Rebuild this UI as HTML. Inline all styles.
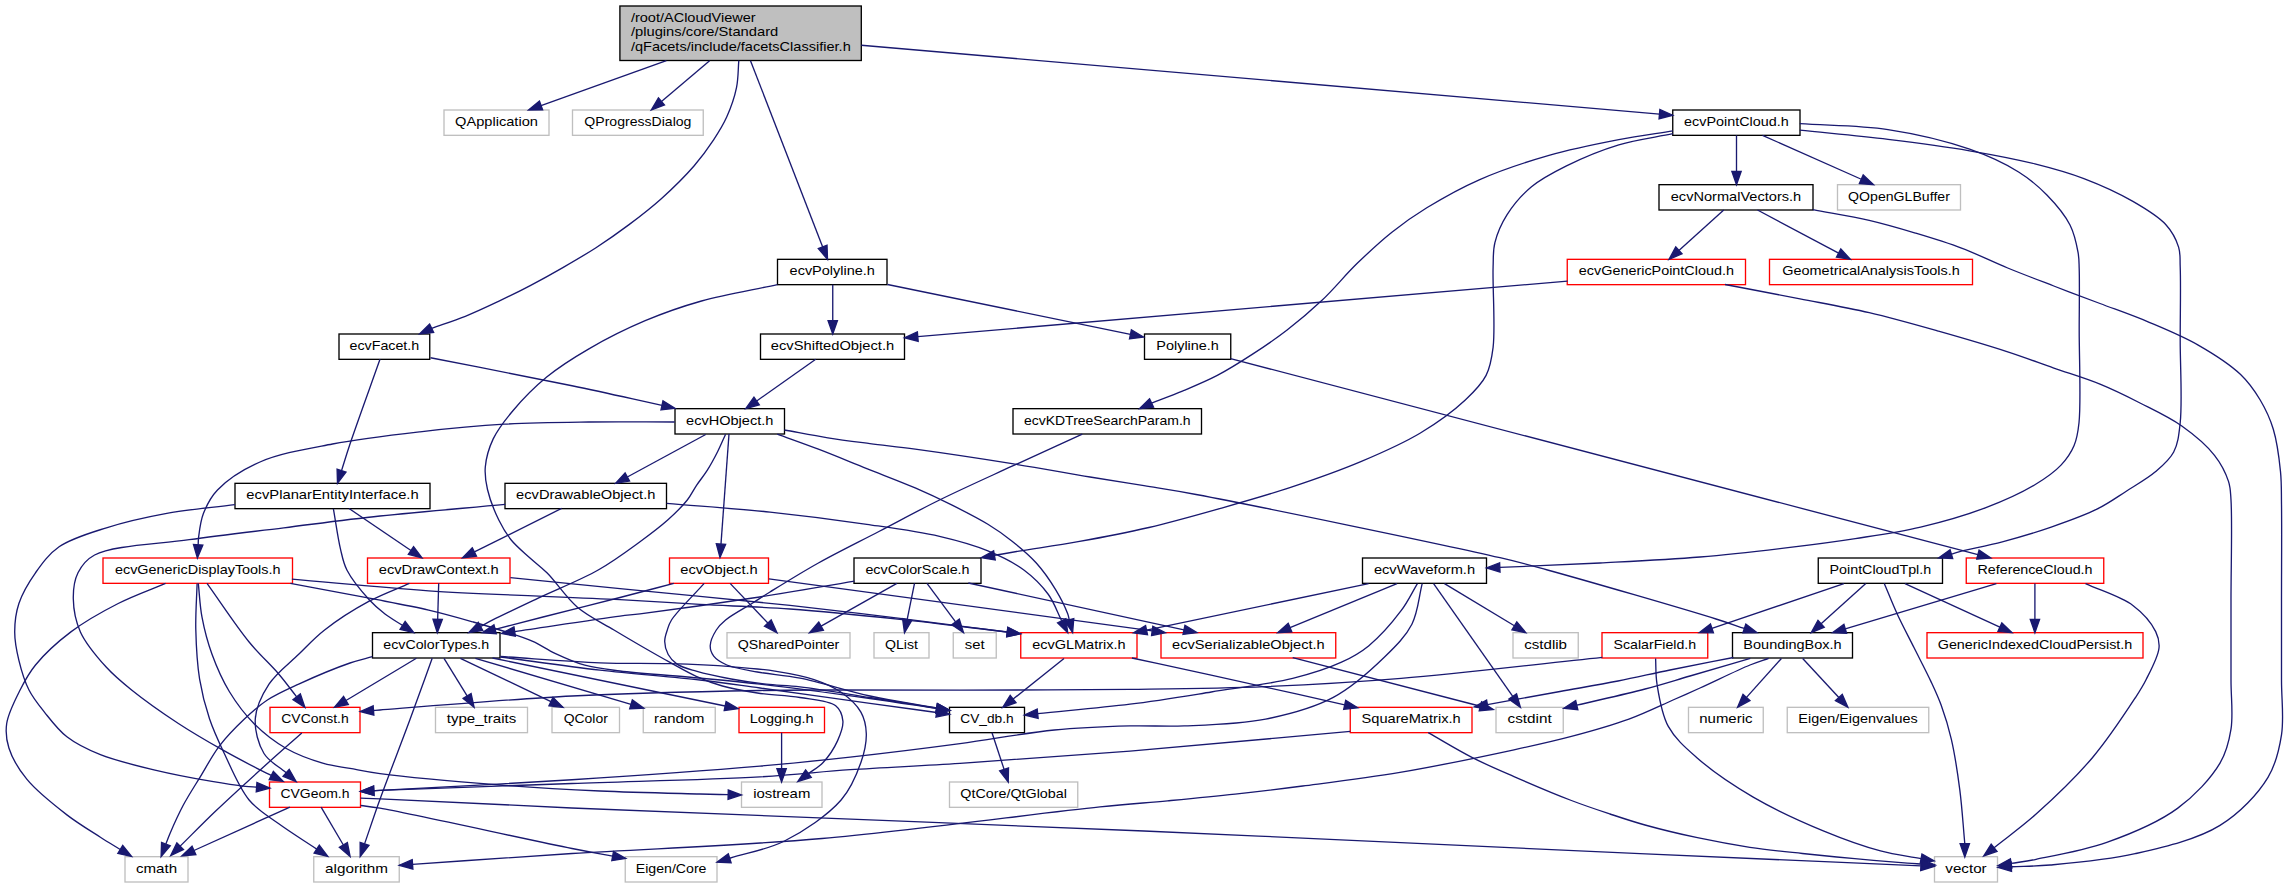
<!DOCTYPE html><html><head><meta charset="utf-8"><style>html,body{margin:0;padding:0;background:#fff;}svg{display:block}</style></head><body>
<svg width="2287" height="888" viewBox="0 0 2287 888">
<rect x="0" y="0" width="2287" height="888" fill="#fff"/>
<g font-family="Liberation Sans, sans-serif" font-size="13.333px" fill="#000">
<rect x="444.00" y="110.00" width="105.00" height="25.33" fill="#fff" stroke="#bfbfbf" stroke-width="1.333"/>
<text x="496.50" y="126.10" text-anchor="middle" textLength="82.87" lengthAdjust="spacingAndGlyphs">QApplication</text>
<rect x="572.50" y="110.00" width="130.75" height="25.33" fill="#fff" stroke="#bfbfbf" stroke-width="1.333"/>
<text x="637.88" y="126.10" text-anchor="middle" textLength="107.12" lengthAdjust="spacingAndGlyphs">QProgressDialog</text>
<rect x="1672.75" y="110.00" width="127.25" height="25.33" fill="#fff" stroke="#000000" stroke-width="1.333"/>
<text x="1736.38" y="126.10" text-anchor="middle" textLength="104.62" lengthAdjust="spacingAndGlyphs">ecvPointCloud.h</text>
<rect x="1659.00" y="184.67" width="154.00" height="25.33" fill="#fff" stroke="#000000" stroke-width="1.333"/>
<text x="1736.00" y="200.77" text-anchor="middle" textLength="130.44" lengthAdjust="spacingAndGlyphs">ecvNormalVectors.h</text>
<rect x="1837.50" y="184.67" width="123.00" height="25.33" fill="#fff" stroke="#bfbfbf" stroke-width="1.333"/>
<text x="1899.00" y="200.77" text-anchor="middle" textLength="101.73" lengthAdjust="spacingAndGlyphs">QOpenGLBuffer</text>
<rect x="777.50" y="259.33" width="109.50" height="25.33" fill="#fff" stroke="#000000" stroke-width="1.333"/>
<text x="832.25" y="275.43" text-anchor="middle" textLength="85.31" lengthAdjust="spacingAndGlyphs">ecvPolyline.h</text>
<rect x="1567.25" y="259.33" width="178.25" height="25.33" fill="#fff" stroke="#ff0000" stroke-width="1.333"/>
<text x="1656.38" y="275.43" text-anchor="middle" textLength="155.04" lengthAdjust="spacingAndGlyphs">ecvGenericPointCloud.h</text>
<rect x="1769.50" y="259.33" width="203.00" height="25.33" fill="#fff" stroke="#ff0000" stroke-width="1.333"/>
<text x="1871.00" y="275.43" text-anchor="middle" textLength="177.42" lengthAdjust="spacingAndGlyphs">GeometricalAnalysisTools.h</text>
<rect x="339.00" y="334.00" width="90.75" height="25.33" fill="#fff" stroke="#000000" stroke-width="1.333"/>
<text x="384.38" y="350.10" text-anchor="middle" textLength="69.70" lengthAdjust="spacingAndGlyphs">ecvFacet.h</text>
<rect x="760.50" y="334.00" width="144.00" height="25.33" fill="#fff" stroke="#000000" stroke-width="1.333"/>
<text x="832.50" y="350.10" text-anchor="middle" textLength="123.35" lengthAdjust="spacingAndGlyphs">ecvShiftedObject.h</text>
<rect x="1144.50" y="334.00" width="86.25" height="25.33" fill="#fff" stroke="#000000" stroke-width="1.333"/>
<text x="1187.62" y="350.10" text-anchor="middle" textLength="62.47" lengthAdjust="spacingAndGlyphs">Polyline.h</text>
<rect x="675.00" y="408.67" width="109.50" height="25.33" fill="#fff" stroke="#000000" stroke-width="1.333"/>
<text x="729.75" y="424.77" text-anchor="middle" textLength="87.33" lengthAdjust="spacingAndGlyphs">ecvHObject.h</text>
<rect x="1013.00" y="408.67" width="188.50" height="25.33" fill="#fff" stroke="#000000" stroke-width="1.333"/>
<text x="1107.25" y="424.77" text-anchor="middle" textLength="166.69" lengthAdjust="spacingAndGlyphs">ecvKDTreeSearchParam.h</text>
<rect x="235.00" y="483.33" width="195.00" height="25.33" fill="#fff" stroke="#000000" stroke-width="1.333"/>
<text x="332.50" y="499.43" text-anchor="middle" textLength="172.33" lengthAdjust="spacingAndGlyphs">ecvPlanarEntityInterface.h</text>
<rect x="505.00" y="483.33" width="161.50" height="25.33" fill="#fff" stroke="#000000" stroke-width="1.333"/>
<text x="585.75" y="499.43" text-anchor="middle" textLength="139.33" lengthAdjust="spacingAndGlyphs">ecvDrawableObject.h</text>
<rect x="103.00" y="558.00" width="189.50" height="25.33" fill="#fff" stroke="#ff0000" stroke-width="1.333"/>
<text x="197.75" y="574.10" text-anchor="middle" textLength="165.57" lengthAdjust="spacingAndGlyphs">ecvGenericDisplayTools.h</text>
<rect x="367.50" y="558.00" width="142.50" height="25.33" fill="#fff" stroke="#ff0000" stroke-width="1.333"/>
<text x="438.75" y="574.10" text-anchor="middle" textLength="120.09" lengthAdjust="spacingAndGlyphs">ecvDrawContext.h</text>
<rect x="669.50" y="558.00" width="99.00" height="25.33" fill="#fff" stroke="#ff0000" stroke-width="1.333"/>
<text x="719.00" y="574.10" text-anchor="middle" textLength="77.55" lengthAdjust="spacingAndGlyphs">ecvObject.h</text>
<rect x="854.00" y="558.00" width="127.00" height="25.33" fill="#fff" stroke="#000000" stroke-width="1.333"/>
<text x="917.50" y="574.10" text-anchor="middle" textLength="104.13" lengthAdjust="spacingAndGlyphs">ecvColorScale.h</text>
<rect x="1362.50" y="558.00" width="124.00" height="25.33" fill="#fff" stroke="#000000" stroke-width="1.333"/>
<text x="1424.50" y="574.10" text-anchor="middle" textLength="101.20" lengthAdjust="spacingAndGlyphs">ecvWaveform.h</text>
<rect x="1818.25" y="558.00" width="124.25" height="25.33" fill="#fff" stroke="#000000" stroke-width="1.333"/>
<text x="1880.38" y="574.10" text-anchor="middle" textLength="101.59" lengthAdjust="spacingAndGlyphs">PointCloudTpl.h</text>
<rect x="1966.25" y="558.00" width="137.50" height="25.33" fill="#fff" stroke="#ff0000" stroke-width="1.333"/>
<text x="2035.00" y="574.10" text-anchor="middle" textLength="114.97" lengthAdjust="spacingAndGlyphs">ReferenceCloud.h</text>
<rect x="372.50" y="632.67" width="127.50" height="25.33" fill="#fff" stroke="#000000" stroke-width="1.333"/>
<text x="436.25" y="648.77" text-anchor="middle" textLength="105.78" lengthAdjust="spacingAndGlyphs">ecvColorTypes.h</text>
<rect x="727.00" y="632.67" width="123.00" height="25.33" fill="#fff" stroke="#bfbfbf" stroke-width="1.333"/>
<text x="788.50" y="648.77" text-anchor="middle" textLength="101.62" lengthAdjust="spacingAndGlyphs">QSharedPointer</text>
<rect x="874.00" y="632.67" width="55.00" height="25.33" fill="#fff" stroke="#bfbfbf" stroke-width="1.333"/>
<text x="901.50" y="648.77" text-anchor="middle" textLength="32.96" lengthAdjust="spacingAndGlyphs">QList</text>
<rect x="953.25" y="632.67" width="43.00" height="25.33" fill="#fff" stroke="#bfbfbf" stroke-width="1.333"/>
<text x="974.75" y="648.77" text-anchor="middle" textLength="19.87" lengthAdjust="spacingAndGlyphs">set</text>
<rect x="1020.75" y="632.67" width="116.25" height="25.33" fill="#fff" stroke="#ff0000" stroke-width="1.333"/>
<text x="1078.88" y="648.77" text-anchor="middle" textLength="93.46" lengthAdjust="spacingAndGlyphs">ecvGLMatrix.h</text>
<rect x="1161.00" y="632.67" width="174.75" height="25.33" fill="#fff" stroke="#ff0000" stroke-width="1.333"/>
<text x="1248.38" y="648.77" text-anchor="middle" textLength="152.60" lengthAdjust="spacingAndGlyphs">ecvSerializableObject.h</text>
<rect x="1513.00" y="632.67" width="65.25" height="25.33" fill="#fff" stroke="#bfbfbf" stroke-width="1.333"/>
<text x="1545.62" y="648.77" text-anchor="middle" textLength="42.75" lengthAdjust="spacingAndGlyphs">cstdlib</text>
<rect x="1602.00" y="632.67" width="105.75" height="25.33" fill="#fff" stroke="#ff0000" stroke-width="1.333"/>
<text x="1654.88" y="648.77" text-anchor="middle" textLength="82.67" lengthAdjust="spacingAndGlyphs">ScalarField.h</text>
<rect x="1732.50" y="632.67" width="120.00" height="25.33" fill="#fff" stroke="#000000" stroke-width="1.333"/>
<text x="1792.50" y="648.77" text-anchor="middle" textLength="98.24" lengthAdjust="spacingAndGlyphs">BoundingBox.h</text>
<rect x="1927.00" y="632.67" width="216.00" height="25.33" fill="#fff" stroke="#ff0000" stroke-width="1.333"/>
<text x="2035.00" y="648.77" text-anchor="middle" textLength="194.53" lengthAdjust="spacingAndGlyphs">GenericIndexedCloudPersist.h</text>
<rect x="270.00" y="707.33" width="90.00" height="25.33" fill="#fff" stroke="#ff0000" stroke-width="1.333"/>
<text x="315.00" y="723.43" text-anchor="middle" textLength="67.48" lengthAdjust="spacingAndGlyphs">CVConst.h</text>
<rect x="435.50" y="707.33" width="92.00" height="25.33" fill="#fff" stroke="#bfbfbf" stroke-width="1.333"/>
<text x="481.50" y="723.43" text-anchor="middle" textLength="69.43" lengthAdjust="spacingAndGlyphs">type_traits</text>
<rect x="552.00" y="707.33" width="67.50" height="25.33" fill="#fff" stroke="#bfbfbf" stroke-width="1.333"/>
<text x="585.75" y="723.43" text-anchor="middle" textLength="44.17" lengthAdjust="spacingAndGlyphs">QColor</text>
<rect x="643.25" y="707.33" width="72.00" height="25.33" fill="#fff" stroke="#bfbfbf" stroke-width="1.333"/>
<text x="679.25" y="723.43" text-anchor="middle" textLength="50.42" lengthAdjust="spacingAndGlyphs">random</text>
<rect x="739.00" y="707.33" width="85.50" height="25.33" fill="#fff" stroke="#ff0000" stroke-width="1.333"/>
<text x="781.75" y="723.43" text-anchor="middle" textLength="63.95" lengthAdjust="spacingAndGlyphs">Logging.h</text>
<rect x="949.50" y="707.33" width="75.00" height="25.33" fill="#fff" stroke="#000000" stroke-width="1.333"/>
<text x="987.00" y="723.43" text-anchor="middle" textLength="53.35" lengthAdjust="spacingAndGlyphs">CV_db.h</text>
<rect x="1350.25" y="707.33" width="121.75" height="25.33" fill="#fff" stroke="#ff0000" stroke-width="1.333"/>
<text x="1411.12" y="723.43" text-anchor="middle" textLength="99.07" lengthAdjust="spacingAndGlyphs">SquareMatrix.h</text>
<rect x="1496.00" y="707.33" width="67.25" height="25.33" fill="#fff" stroke="#bfbfbf" stroke-width="1.333"/>
<text x="1529.62" y="723.43" text-anchor="middle" textLength="44.22" lengthAdjust="spacingAndGlyphs">cstdint</text>
<rect x="1688.50" y="707.33" width="74.75" height="25.33" fill="#fff" stroke="#bfbfbf" stroke-width="1.333"/>
<text x="1725.88" y="723.43" text-anchor="middle" textLength="53.24" lengthAdjust="spacingAndGlyphs">numeric</text>
<rect x="1787.25" y="707.33" width="141.50" height="25.33" fill="#fff" stroke="#bfbfbf" stroke-width="1.333"/>
<text x="1858.00" y="723.43" text-anchor="middle" textLength="119.29" lengthAdjust="spacingAndGlyphs">Eigen/Eigenvalues</text>
<rect x="269.50" y="782.00" width="91.00" height="25.33" fill="#fff" stroke="#ff0000" stroke-width="1.333"/>
<text x="315.00" y="798.10" text-anchor="middle" textLength="69.03" lengthAdjust="spacingAndGlyphs">CVGeom.h</text>
<rect x="741.50" y="782.00" width="80.50" height="25.33" fill="#fff" stroke="#bfbfbf" stroke-width="1.333"/>
<text x="781.75" y="798.10" text-anchor="middle" textLength="57.12" lengthAdjust="spacingAndGlyphs">iostream</text>
<rect x="949.50" y="782.00" width="128.25" height="25.33" fill="#fff" stroke="#bfbfbf" stroke-width="1.333"/>
<text x="1013.62" y="798.10" text-anchor="middle" textLength="106.60" lengthAdjust="spacingAndGlyphs">QtCore/QtGlobal</text>
<rect x="125.00" y="856.67" width="63.00" height="25.33" fill="#fff" stroke="#bfbfbf" stroke-width="1.333"/>
<text x="156.50" y="872.77" text-anchor="middle" textLength="41.11" lengthAdjust="spacingAndGlyphs">cmath</text>
<rect x="313.75" y="856.67" width="85.50" height="25.33" fill="#fff" stroke="#bfbfbf" stroke-width="1.333"/>
<text x="356.50" y="872.77" text-anchor="middle" textLength="62.74" lengthAdjust="spacingAndGlyphs">algorithm</text>
<rect x="625.25" y="856.67" width="91.75" height="25.33" fill="#fff" stroke="#bfbfbf" stroke-width="1.333"/>
<text x="671.12" y="872.77" text-anchor="middle" textLength="70.78" lengthAdjust="spacingAndGlyphs">Eigen/Core</text>
<rect x="1934.50" y="856.67" width="63.00" height="25.33" fill="#fff" stroke="#bfbfbf" stroke-width="1.333"/>
<text x="1966.00" y="872.77" text-anchor="middle" textLength="41.23" lengthAdjust="spacingAndGlyphs">vector</text>
<rect x="619.90" y="6.00" width="241.40" height="54.50" fill="#bfbfbf" stroke="#000" stroke-width="1.333"/>
<text x="630.90" y="21.80" textLength="124.81" lengthAdjust="spacingAndGlyphs">/root/ACloudViewer</text>
<text x="630.90" y="36.40" textLength="147.42" lengthAdjust="spacingAndGlyphs">/plugins/core/Standard</text>
<text x="630.90" y="51.00" textLength="219.84" lengthAdjust="spacingAndGlyphs">/qFacets/include/facetsClassifier.h</text>
</g>
<g fill="none" stroke="#191970" stroke-width="1.333">
<path d="M666.40,60.67 L541.05,105.51"/>
<path d="M709.60,60.67 L661.48,101.39"/>
<path d="M738.80,60.67 C738.03,69.68 738.37,78.61 736.50,87.70 C734.50,97.41 730.73,108.11 726.70,117.10 C722.98,125.38 718.67,132.20 713.60,139.90 C707.95,148.48 701.73,157.09 694.00,166.00 C684.80,176.60 672.47,188.68 661.30,198.70 C650.68,208.23 639.72,216.65 628.70,224.90 C617.94,232.96 607.02,240.56 596.00,247.70 C585.22,254.68 574.25,261.00 563.30,267.30 C552.48,273.53 541.64,279.56 530.70,285.30 C519.87,290.99 508.95,296.41 498.00,301.60 C487.15,306.74 476.37,311.85 465.30,316.30 C454.25,320.74 442.87,324.30 431.65,328.30"/>
<path d="M750.50,60.67 L822.68,246.90"/>
<path d="M861.30,45.25 L1659.47,114.10"/>
<path d="M1736.50,135.33 L1736.50,171.34"/>
<path d="M1762.50,135.33 L1861.32,179.25"/>
<path d="M1672.90,130.90 C1654.87,133.83 1637.92,136.00 1618.80,139.70 C1596.95,143.93 1572.08,148.79 1549.00,155.40 C1525.54,162.12 1500.47,170.46 1479.20,179.80 C1460.13,188.17 1442.25,198.32 1426.80,207.80 C1413.72,215.83 1403.26,223.17 1391.90,232.20 C1379.97,241.68 1368.43,252.49 1357.00,263.60 C1345.12,275.14 1333.96,289.00 1322.00,300.30 C1310.63,311.04 1298.95,320.84 1287.10,330.00 C1275.67,338.83 1263.97,346.76 1252.20,354.40 C1240.69,361.87 1229.12,369.21 1217.30,375.40 C1205.84,381.40 1193.73,386.36 1182.40,391.10 C1171.87,395.50 1161.85,399.05 1151.58,403.03"/>
<path d="M1672.90,133.70 C1654.87,137.43 1636.45,139.58 1618.80,144.90 C1600.97,150.28 1581.93,158.26 1566.50,165.90 C1553.38,172.40 1541.56,178.41 1531.50,186.80 C1521.91,194.80 1513.32,204.89 1507.10,214.70 C1501.46,223.61 1497.17,233.50 1494.90,242.70 C1492.86,250.94 1493.49,256.60 1493.10,267.10 C1492.40,286.11 1495.53,327.63 1493.10,347.40 C1491.64,359.25 1490.49,366.83 1486.10,375.40 C1481.46,384.45 1474.15,391.73 1465.30,400.00 C1453.66,410.88 1436.89,423.09 1420.40,433.00 C1402.52,443.74 1382.19,452.60 1361.40,461.40 C1339.09,470.84 1314.33,479.50 1290.60,487.40 C1267.09,495.22 1243.37,501.90 1219.70,508.60 C1196.14,515.27 1172.59,521.97 1148.90,527.50 C1125.39,532.99 1100.67,537.64 1078.10,541.70 C1057.55,545.39 1034.44,548.52 1019.00,551.10 C1009.03,552.76 1002.62,553.97 994.43,555.40"/>
<path d="M1799.80,123.70 C1829.20,125.67 1859.35,125.23 1888.00,129.60 C1915.91,133.85 1946.20,141.04 1969.60,149.20 C1988.38,155.75 2004.93,163.45 2018.60,172.00 C2029.83,179.02 2038.40,186.27 2046.90,195.00 C2055.57,203.90 2064.76,214.69 2070.00,225.00 C2074.57,234.00 2076.66,244.64 2078.10,252.70 C2079.17,258.72 2078.96,261.70 2079.20,268.80 C2079.67,282.63 2079.22,307.49 2079.20,330.00 C2079.17,357.70 2081.19,402.29 2079.00,422.70 C2077.90,432.94 2077.08,438.45 2074.10,445.50 C2071.10,452.59 2066.76,459.02 2061.00,465.10 C2054.23,472.26 2045.34,478.43 2034.90,484.70 C2021.46,492.77 2003.67,500.83 1985.90,507.60 C1965.95,515.19 1942.52,521.92 1920.60,527.10 C1898.98,532.21 1877.10,535.21 1855.30,538.60 C1833.57,541.98 1813.53,544.56 1790.00,547.40 C1762.42,550.73 1730.82,554.43 1700.00,557.00 C1667.57,559.70 1633.36,561.26 1600.00,563.00 C1566.63,564.74 1533.21,565.94 1499.82,567.41"/>
<path d="M1799.80,130.20 C1829.20,133.27 1859.20,135.89 1888.00,139.40 C1915.76,142.79 1943.97,146.44 1969.60,150.80 C1992.64,154.72 2014.80,158.88 2034.90,163.90 C2052.51,168.30 2067.78,172.47 2083.90,178.60 C2100.46,184.90 2118.54,193.11 2132.90,201.40 C2145.22,208.52 2157.66,215.72 2165.50,224.30 C2171.87,231.27 2176.24,239.52 2178.60,247.10 C2180.64,253.65 2179.85,258.08 2180.20,266.70 C2180.88,283.35 2180.20,314.83 2180.20,340.00 C2180.20,366.74 2182.44,402.22 2180.20,422.70 C2178.85,435.04 2178.03,443.69 2173.70,452.00 C2169.62,459.82 2162.86,465.47 2155.70,471.60 C2147.45,478.67 2136.16,484.90 2126.30,491.20 C2116.56,497.43 2108.05,503.66 2096.90,509.20 C2083.59,515.82 2066.80,521.71 2051.20,527.10 C2035.28,532.60 2018.10,537.61 2002.30,541.80 C1987.70,545.67 1968.51,549.28 1959.80,551.60 C1955.89,552.64 1954.18,553.30 1951.36,554.15"/>
<path d="M1723.75,210.00 L1678.91,250.40"/>
<path d="M1757.50,210.00 L1838.62,253.08"/>
<path d="M1812.90,209.60 C1831.67,213.20 1851.44,216.26 1869.20,220.40 C1885.44,224.18 1900.06,228.50 1915.40,233.10 C1930.83,237.73 1946.26,242.35 1961.50,248.10 C1977.03,253.96 1992.25,261.66 2007.70,268.00 C2023.02,274.29 2038.41,280.08 2053.80,286.00 C2069.18,291.91 2084.36,297.55 2100.00,303.50 C2116.15,309.64 2132.94,315.42 2149.20,322.30 C2165.67,329.27 2182.81,336.27 2198.20,345.10 C2213.24,353.73 2229.74,364.16 2240.60,374.50 C2249.17,382.66 2254.75,390.87 2260.20,400.00 C2265.64,409.11 2270.00,418.33 2273.30,429.20 C2277.13,441.80 2279.18,458.34 2280.50,471.60 C2281.65,483.16 2281.29,490.54 2281.50,504.30 C2281.86,527.83 2281.50,569.53 2281.50,600.00 C2281.50,627.86 2281.50,655.84 2281.50,680.00 C2281.50,700.02 2284.13,717.97 2281.50,734.90 C2279.13,750.14 2276.28,763.69 2268.00,777.30 C2257.77,794.12 2240.03,813.00 2220.00,825.40 C2197.01,839.62 2163.72,847.09 2135.10,853.70 C2107.10,860.17 2073.08,862.98 2050.20,865.00 C2034.78,866.36 2024.28,866.14 2011.32,866.71"/>
<path d="M1567.50,281.10 L917.78,336.61"/>
<path d="M1725.00,284.50 C1750.00,289.27 1775.51,294.01 1800.00,298.80 C1823.54,303.41 1846.21,307.33 1869.20,312.70 C1892.38,318.12 1915.46,324.68 1938.50,331.20 C1961.62,337.74 1987.04,345.18 2007.70,351.90 C2024.69,357.42 2038.42,362.72 2053.80,368.10 C2069.19,373.49 2085.30,378.20 2100.00,384.20 C2113.97,389.90 2126.63,396.19 2140.00,403.00 C2153.89,410.08 2169.18,417.05 2181.80,426.00 C2193.91,434.59 2206.47,445.08 2214.50,455.30 C2221.10,463.69 2225.85,473.21 2228.50,481.40 C2230.61,487.92 2230.42,491.31 2231.00,500.00 C2232.34,520.06 2231.00,568.52 2231.00,600.00 C2231.00,628.15 2231.00,656.56 2231.00,680.00 C2231.00,698.38 2233.32,714.47 2231.00,729.20 C2229.02,741.75 2226.72,751.82 2220.00,763.20 C2211.14,778.19 2194.86,795.68 2177.50,808.40 C2157.98,822.70 2130.83,833.86 2106.80,842.40 C2083.67,850.62 2053.71,855.74 2036.10,859.30 C2025.71,861.40 2019.47,862.05 2011.15,863.42"/>
<path d="M832.75,284.67 L832.75,320.67"/>
<path d="M887.50,284.50 L1130.44,334.32"/>
<path d="M777.40,284.60 C752.10,290.07 724.73,294.45 701.50,301.00 C681.14,306.74 663.72,312.87 645.20,320.70 C626.18,328.74 606.03,338.85 588.90,348.80 C573.51,357.73 559.52,366.49 546.70,377.00 C534.26,387.19 522.26,399.55 512.90,410.70 C504.96,420.16 497.84,429.10 493.20,438.90 C488.93,447.93 486.09,458.08 485.30,467.00 C484.61,474.85 485.67,481.56 487.50,489.50 C489.69,499.03 494.44,511.09 498.80,520.00 C502.51,527.58 506.18,533.80 511.20,540.00 C516.48,546.52 523.81,552.34 530.00,558.00 C535.80,563.30 540.89,566.73 547.20,573.00 C556.12,581.86 566.07,597.62 577.40,607.20 C588.41,616.52 602.40,622.97 614.00,630.00 C624.38,636.29 634.08,641.94 643.70,647.50 C652.71,652.71 661.21,657.58 670.00,662.40 C678.71,667.18 687.33,672.33 696.20,676.30 C704.81,680.16 712.92,683.32 722.40,686.00 C733.11,689.03 745.12,691.13 757.40,693.00 C770.86,695.05 786.49,695.23 800.00,697.50 C812.49,699.60 828.78,700.21 835.70,705.80 C840.40,709.60 842.42,715.58 842.90,721.10 C843.43,727.19 840.46,734.39 837.50,740.90 C834.17,748.22 828.45,756.83 823.10,762.50 C818.60,767.27 813.33,769.88 808.44,773.57"/>
<path d="M430.50,357.75 C477.67,367.08 530.19,377.05 572.00,385.75 C605.41,392.70 631.98,398.85 661.97,405.40"/>
<path d="M380.00,359.33 C370.00,387.55 356.83,423.68 350.00,444.00 C346.19,455.33 344.36,461.75 341.54,470.62"/>
<path d="M815.75,359.33 L756.65,400.99"/>
<path d="M1230.60,358.60 L1977.90,554.62"/>
<path d="M674.70,422.00 C646.10,422.00 617.39,421.63 588.90,422.00 C560.62,422.37 532.53,422.57 504.40,424.20 C476.23,425.83 448.35,428.55 420.00,431.80 C391.06,435.12 360.16,438.65 332.50,444.00 C307.06,448.92 280.33,453.09 260.00,462.00 C243.22,469.35 227.19,479.88 217.50,490.00 C210.38,497.44 206.56,505.45 203.40,513.60 C200.44,521.25 199.34,531.60 198.60,537.30 C198.19,540.48 198.31,542.29 198.17,544.79"/>
<path d="M705.70,434.50 L627.32,476.98"/>
<path d="M729.00,434.00 L720.97,544.10"/>
<path d="M725.60,434.20 C722.97,439.97 720.65,445.66 717.70,451.50 C714.56,457.72 710.87,464.59 707.20,470.40 C703.84,475.71 700.04,480.13 696.70,485.10 C693.41,490.00 691.34,494.89 687.30,500.00 C682.21,506.44 675.04,513.43 667.70,520.00 C659.48,527.36 650.33,534.17 640.00,541.70 C627.63,550.71 613.78,561.15 598.20,570.00 C580.36,580.14 556.74,589.31 538.20,598.10 C522.10,605.73 503.55,614.47 493.20,619.70 C487.66,622.50 484.78,624.17 480.57,626.41"/>
<path d="M777.30,434.20 C791.00,439.20 804.18,443.76 818.40,449.20 C833.92,455.14 850.66,462.15 866.80,468.60 C882.93,475.05 900.30,481.46 915.20,487.90 C928.28,493.56 939.56,498.87 951.60,504.90 C963.79,511.00 977.19,517.73 987.90,524.30 C996.97,529.86 1004.22,534.94 1012.10,541.20 C1020.38,547.78 1029.06,554.95 1036.30,563.00 C1043.57,571.08 1050.21,580.72 1055.60,589.60 C1060.49,597.66 1065.66,608.37 1067.70,613.80 C1068.67,616.39 1068.73,617.78 1069.25,619.76"/>
<path d="M784.40,430.00 C798.90,432.60 813.50,435.52 827.90,437.80 C842.00,440.04 855.63,441.73 869.90,443.60 C884.71,445.54 897.28,446.75 915.20,449.20 C941.45,452.79 981.58,458.81 1012.10,463.70 C1039.51,468.09 1066.40,473.08 1090.00,477.00 C1109.64,480.26 1126.17,482.76 1144.00,485.70 C1161.53,488.59 1171.60,489.88 1196.10,494.50 C1255.49,505.69 1442.69,544.33 1500.00,557.70 C1522.79,563.02 1526.87,564.33 1547.50,570.00 C1586.51,580.72 1683.38,608.82 1716.00,619.00 C1729.46,623.20 1734.90,625.30 1744.35,628.45"/>
<path d="M1082.30,434.20 C1058.90,444.87 1035.67,455.34 1012.10,466.20 C988.08,477.27 962.49,488.68 939.50,500.00 C918.27,510.45 899.09,521.00 878.90,531.50 C858.72,542.00 837.30,552.43 818.40,563.00 C801.21,572.61 782.04,584.57 770.00,592.00 C762.74,596.48 759.12,598.95 752.70,603.00 C744.68,608.06 732.04,614.67 725.60,620.00 C721.39,623.48 718.80,626.01 716.30,630.00 C713.53,634.43 710.32,640.97 710.20,645.70 C710.11,649.53 711.40,653.18 713.70,656.20 C716.45,659.81 721.24,662.60 726.80,665.00 C734.64,668.39 746.31,669.94 757.40,672.00 C770.38,674.41 784.14,674.95 800.00,678.10 C820.55,682.19 846.86,690.96 870.00,696.00 C892.41,700.88 914.45,704.02 936.68,708.03"/>
<path d="M349.00,508.50 L410.96,550.43"/>
<path d="M333.40,508.90 C335.77,522.30 337.82,537.94 340.50,549.10 C342.46,557.27 343.22,562.76 346.90,570.00 C351.70,579.44 362.04,591.85 369.20,599.70 C374.62,605.64 379.41,609.70 385.00,614.00 C390.55,618.27 396.74,621.61 402.61,625.42"/>
<path d="M234.80,504.70 C211.70,507.67 187.58,509.54 165.50,513.60 C144.91,517.38 124.80,521.93 106.40,527.80 C89.55,533.18 71.43,538.22 59.10,546.80 C48.87,553.92 42.21,563.33 35.50,572.80 C28.81,582.24 22.34,593.16 18.90,603.50 C15.78,612.88 14.70,622.43 14.70,631.90 C14.70,641.37 16.61,650.83 18.90,660.30 C21.29,670.20 24.49,681.09 29.00,690.00 C33.20,698.30 38.67,704.88 44.60,712.30 C51.14,720.48 58.02,729.89 66.90,736.80 C76.41,744.20 87.50,749.52 100.40,754.70 C116.32,761.09 137.44,765.84 156.10,770.30 C174.61,774.73 195.64,778.59 211.90,781.40 C224.42,783.56 237.10,785.40 245.30,786.30 C250.05,786.82 252.83,786.85 256.60,787.13"/>
<path d="M561.60,508.40 L474.43,551.94"/>
<path d="M666.60,503.40 C701.07,506.30 736.14,508.54 770.00,512.10 C802.84,515.55 836.88,519.93 866.80,524.30 C892.81,528.10 917.86,531.38 939.50,536.40 C957.41,540.56 973.20,544.86 987.90,550.90 C1001.16,556.35 1013.81,562.49 1024.20,570.20 C1033.69,577.24 1042.04,585.70 1048.40,594.50 C1054.29,602.65 1057.26,612.01 1061.68,620.77"/>
<path d="M505.20,504.40 C463.47,508.27 418.96,511.81 380.00,516.00 C345.80,519.68 315.73,523.83 283.80,527.80 C252.13,531.73 220.69,535.17 189.20,539.70 C157.63,544.24 112.47,545.46 94.60,555.00 C85.60,559.81 81.56,565.70 78.00,572.80 C74.29,580.20 73.15,589.63 73.30,598.80 C73.47,609.18 75.58,621.18 80.40,631.90 C85.89,644.11 97.26,657.20 106.40,667.30 C114.43,676.18 121.65,682.00 131.60,690.00 C144.57,700.43 162.78,713.26 178.40,723.50 C193.25,733.23 209.11,742.34 223.00,750.20 C234.88,756.92 247.56,763.49 256.50,768.10 C262.39,771.14 266.34,773.00 271.27,775.46"/>
<path d="M165.50,583.40 C149.73,590.10 133.70,595.60 118.20,603.50 C102.14,611.68 85.03,621.24 70.90,631.90 C57.66,641.89 44.37,654.15 35.50,665.00 C28.59,673.44 24.71,680.84 20.10,690.00 C14.99,700.15 8.23,713.03 6.70,723.50 C5.43,732.14 6.27,739.64 8.90,748.00 C12.09,758.11 18.59,769.10 26.80,779.20 C36.82,791.54 53.78,804.78 66.90,814.90 C78.26,823.66 90.64,830.93 100.40,837.20 C107.84,841.97 113.64,845.39 120.26,849.49"/>
<path d="M197.10,583.40 C196.67,598.80 195.42,613.94 195.80,629.60 C196.19,645.83 197.09,663.61 199.60,679.10 C201.88,693.16 205.26,706.17 209.50,718.80 C213.57,730.93 218.42,741.22 224.30,753.50 C231.25,768.01 239.00,787.83 249.10,800.00 C257.68,810.34 268.11,815.98 278.80,823.80 C290.49,832.36 304.07,840.67 316.71,849.10"/>
<path d="M198.30,583.40 C199.53,594.67 199.84,605.76 202.00,617.20 C204.29,629.37 207.56,642.11 212.00,654.30 C216.59,666.89 222.26,679.91 229.30,691.50 C236.31,703.04 244.60,714.20 254.10,723.70 C263.60,733.20 274.69,741.87 286.30,748.50 C297.83,755.08 312.00,760.05 323.50,763.40 C332.94,766.15 340.89,766.75 350.00,768.40 C359.68,770.15 366.62,771.81 380.00,773.60 C406.62,777.17 461.80,782.04 500.00,785.00 C534.83,787.70 566.66,789.50 600.00,791.00 C633.32,792.50 676.88,793.37 700.00,794.00 C712.27,794.33 718.78,794.45 728.17,794.68"/>
<path d="M207.00,583.40 C221.03,602.93 235.79,625.71 249.10,642.00 C259.48,654.70 270.41,664.25 278.90,674.20 C285.77,682.26 290.75,689.29 296.67,696.84"/>
<path d="M291.90,579.20 C337.50,583.07 379.25,587.55 428.70,590.80 C487.10,594.63 569.92,597.06 620.00,599.70 C652.39,601.41 672.55,602.89 700.00,604.40 C729.11,606.00 758.52,606.71 790.00,609.00 C824.85,611.54 863.59,615.52 900.00,619.40 C936.00,623.24 971.51,627.89 1007.26,632.13"/>
<path d="M290.40,583.40 C316.67,588.33 344.79,593.47 369.20,598.20 C390.44,602.32 410.36,605.82 428.70,610.10 C444.70,613.83 459.97,618.20 473.30,622.00 C484.23,625.11 493.13,627.78 503.00,631.00 C512.96,634.25 523.74,637.42 532.80,641.40 C540.90,644.96 546.94,649.55 555.00,653.30 C564.10,657.54 574.29,662.27 584.80,665.20 C595.89,668.29 606.34,669.27 620.00,671.00 C638.83,673.39 664.60,674.86 687.50,677.00 C711.24,679.22 733.35,681.05 760.00,684.10 C792.89,687.86 837.92,694.01 870.00,698.50 C894.99,702.00 914.41,705.12 936.61,708.43"/>
<path d="M438.70,583.30 L437.68,619.34"/>
<path d="M510.40,577.70 C546.93,581.33 586.33,585.31 620.00,588.60 C648.76,591.41 672.55,593.59 700.00,596.30 C729.12,599.17 758.51,601.96 790.00,605.40 C824.84,609.20 863.57,613.84 900.00,618.30 C935.99,622.71 971.52,627.44 1007.27,632.01"/>
<path d="M409.40,583.40 C396.00,589.33 382.66,593.93 369.20,601.20 C354.41,609.19 337.10,620.23 324.60,630.00 C314.38,637.99 307.55,645.71 298.70,654.30 C289.06,663.65 276.30,672.96 269.00,684.10 C262.13,694.59 256.06,707.11 255.30,718.80 C254.55,730.25 258.35,744.27 264.00,753.50 C269.12,761.87 278.77,766.39 286.15,772.83"/>
<path d="M730.10,583.40 L767.81,623.01"/>
<path d="M673.80,583.40 C655.87,588.10 639.55,592.46 620.00,597.50 C596.64,603.52 565.63,611.22 543.00,617.00 C525.15,621.56 511.07,625.23 495.11,629.34"/>
<path d="M704.20,583.40 C693.30,595.60 677.01,611.28 671.50,620.00 C668.91,624.10 668.42,626.51 667.30,630.00 C666.13,633.63 664.63,637.48 664.70,641.40 C664.78,645.62 666.11,650.69 668.20,654.50 C670.25,658.23 673.10,661.49 677.00,664.10 C681.88,667.36 688.77,668.92 696.20,671.10 C706.05,673.99 719.49,676.81 731.20,679.00 C742.83,681.17 754.61,682.90 766.20,684.20 C777.54,685.48 786.74,685.28 800.00,686.80 C819.17,689.00 846.96,693.88 870.00,697.50 C892.49,701.04 914.43,704.68 936.64,708.27"/>
<path d="M768.90,578.90 L1152.19,630.91"/>
<path d="M854.50,581.10 C820.57,586.73 787.53,592.67 752.70,598.00 C716.12,603.60 662.28,610.96 640.00,613.80 C630.63,615.00 629.27,614.89 620.00,616.10 C598.68,618.89 549.79,626.41 514.69,631.56"/>
<path d="M896.90,583.40 L821.11,626.12"/>
<path d="M914.50,583.40 L907.15,619.60"/>
<path d="M927.00,583.40 L955.56,621.96"/>
<path d="M968.30,583.00 L1183.97,629.84"/>
<path d="M1368.60,583.60 L1146.55,630.16"/>
<path d="M1397.00,583.60 L1290.03,627.60"/>
<path d="M1444.50,583.60 L1514.38,625.78"/>
<path d="M1433.60,583.60 L1512.74,696.41"/>
<path d="M1417.40,583.60 C1411.97,592.63 1408.04,601.44 1401.10,610.70 C1392.55,622.09 1379.59,636.95 1368.60,645.90 C1359.67,653.17 1352.17,657.29 1341.50,662.20 C1327.89,668.46 1311.24,673.80 1292.70,678.40 C1269.21,684.22 1238.44,687.70 1211.30,692.00 C1184.21,696.30 1158.00,700.67 1130.00,704.20 C1100.24,707.95 1068.44,710.50 1037.66,713.64"/>
<path d="M1422.20,583.60 C1418.77,597.13 1418.10,612.03 1411.90,624.20 C1405.66,636.44 1395.96,645.93 1384.80,656.80 C1370.92,670.32 1352.67,687.09 1333.30,697.40 C1313.13,708.13 1289.49,714.34 1265.60,719.10 C1239.99,724.21 1208.60,724.88 1184.20,725.90 C1164.32,726.73 1149.56,725.37 1130.00,725.90 C1106.88,726.53 1080.94,727.37 1054.40,730.00 C1024.62,732.95 992.69,739.24 960.00,743.60 C924.78,748.30 884.94,753.22 850.10,757.10 C818.60,760.61 795.52,763.04 760.00,766.10 C708.75,770.52 635.01,775.72 572.00,779.75 C508.35,783.83 399.48,789.31 380.00,790.40 C376.50,790.60 375.87,790.63 373.81,790.75"/>
<path d="M1292.70,657.60 L1480.39,706.25"/>
<path d="M1064.00,658.60 L1013.13,699.10"/>
<path d="M1131.90,658.00 C1157.93,663.60 1180.46,668.33 1210.00,674.80 C1248.83,683.30 1299.79,694.80 1344.69,704.80"/>
<path d="M1602.30,657.30 C1535.23,664.33 1461.61,673.40 1401.10,678.40 C1351.53,682.50 1310.79,684.78 1265.60,686.60 C1220.43,688.42 1177.75,688.71 1130.00,689.30 C1076.54,689.96 1012.65,690.00 960.00,690.10 C914.31,690.19 868.57,689.89 832.00,690.00 C804.57,690.08 789.65,689.96 760.00,690.50 C712.08,691.37 634.96,692.79 572.00,696.00 C508.30,699.25 399.90,708.52 380.00,710.00 C376.34,710.27 375.66,710.33 373.50,710.49"/>
<path d="M1655.60,658.50 C1656.07,667.00 1655.49,674.51 1657.00,684.00 C1658.98,696.44 1661.57,714.06 1668.30,726.40 C1674.89,738.48 1684.85,747.16 1696.60,757.50 C1711.66,770.75 1732.76,785.14 1753.20,797.10 C1774.98,809.84 1801.39,821.79 1823.90,831.10 C1843.58,839.24 1863.03,846.23 1880.50,850.90 C1895.00,854.78 1907.56,855.99 1921.10,858.54"/>
<path d="M1733.40,657.50 C1712.27,661.67 1690.07,665.90 1670.00,670.00 C1651.79,673.72 1635.83,677.50 1618.00,681.00 C1599.22,684.69 1580.42,687.81 1560.00,691.50 C1537.16,695.63 1511.61,700.25 1487.42,704.63"/>
<path d="M1750.30,658.30 C1730.20,664.20 1708.63,670.57 1690.00,676.00 C1673.94,680.68 1661.69,684.63 1645.10,689.00 C1624.76,694.35 1599.55,699.81 1576.77,705.22"/>
<path d="M1781.40,658.50 L1746.50,697.40"/>
<path d="M1802.70,658.50 L1838.84,697.55"/>
<path d="M1768.70,658.30 C1762.47,660.53 1757.65,661.88 1750.00,665.00 C1737.26,670.20 1714.14,681.61 1700.00,688.00 C1689.64,692.68 1683.11,695.56 1673.00,700.00 C1660.11,705.66 1644.76,713.30 1628.90,719.10 C1611.18,725.58 1590.64,731.27 1571.40,736.40 C1552.34,741.49 1536.43,744.96 1514.00,749.80 C1482.50,756.60 1436.58,766.22 1400.00,772.40 C1366.37,778.08 1332.21,782.17 1302.70,786.00 C1278.14,789.19 1257.64,791.63 1235.10,794.10 C1212.60,796.56 1190.11,798.67 1167.60,800.80 C1145.08,802.93 1130.16,803.83 1100.00,806.90 C1038.77,813.14 912.31,830.66 822.00,838.50 C736.56,845.91 645.99,848.76 572.00,853.50 C512.89,857.28 465.70,860.73 412.55,864.35"/>
<path d="M1843.90,583.60 L1711.93,628.39"/>
<path d="M1865.80,583.60 L1821.12,623.76"/>
<path d="M1884.30,583.50 C1888.60,593.67 1892.43,603.65 1897.20,614.00 C1902.30,625.06 1908.47,636.53 1914.10,647.80 C1919.73,659.07 1926.20,671.27 1931.00,681.60 C1934.97,690.14 1938.04,696.60 1941.20,705.30 C1944.89,715.47 1948.40,726.60 1951.30,739.10 C1954.81,754.20 1957.56,772.60 1959.80,789.80 C1962.09,807.44 1963.13,825.71 1964.80,843.67"/>
<path d="M1905.00,583.60 L1999.88,627.11"/>
<path d="M1996.40,583.60 L1845.27,628.85"/>
<path d="M2034.90,583.60 L2034.90,619.34"/>
<path d="M2085.50,583.60 C2101.30,590.90 2120.67,596.34 2132.90,605.50 C2142.87,612.96 2151.65,623.39 2155.70,631.60 C2158.51,637.30 2159.60,641.73 2159.00,648.00 C2158.14,657.01 2150.40,670.98 2145.90,680.00 C2142.38,687.04 2140.10,690.46 2135.10,698.10 C2125.79,712.33 2108.64,738.56 2092.60,757.50 C2075.82,777.31 2053.96,798.10 2036.10,814.10 C2021.45,827.22 2008.11,836.48 1994.11,847.67"/>
<path d="M416.40,658.30 C398.77,668.87 376.39,682.29 363.50,690.00 C356.08,694.44 351.80,696.99 345.95,700.49"/>
<path d="M444.00,658.30 L467.12,695.97"/>
<path d="M460.40,658.30 L550.97,701.58"/>
<path d="M432.20,658.30 C424.73,678.87 417.86,698.17 409.80,720.00 C400.64,744.80 388.19,776.60 380.00,799.30 C373.88,816.25 369.71,829.03 364.56,843.90"/>
<path d="M372.40,656.70 C364.93,658.80 358.89,659.93 350.00,663.00 C336.28,667.73 313.58,677.27 298.70,684.10 C286.86,689.53 276.73,693.87 267.40,700.00 C258.79,705.66 251.99,711.92 244.40,719.10 C236.01,727.04 226.85,736.28 219.50,745.90 C212.19,755.46 206.56,766.51 200.40,776.60 C194.47,786.30 188.35,795.60 183.20,805.30 C178.19,814.74 172.85,826.84 169.80,834.00 C168.02,838.18 167.21,840.71 165.91,844.06"/>
<path d="M475.40,658.30 L631.02,704.41"/>
<path d="M492.50,658.00 L725.14,706.01"/>
<path d="M500.40,657.00 C533.60,661.40 566.73,666.37 600.00,670.20 C633.27,674.03 670.93,676.64 700.00,680.00 C722.57,682.61 737.00,684.87 760.00,688.00 C791.16,692.24 837.91,698.86 870.00,703.30 C894.97,706.76 914.39,709.42 936.59,712.48"/>
<path d="M500.40,656.50 C533.60,658.60 569.71,661.65 600.00,662.80 C625.37,663.76 647.46,663.00 670.00,663.70 C691.09,664.35 712.53,665.30 731.20,666.70 C747.01,667.88 760.79,668.87 774.90,671.10 C788.38,673.23 802.45,675.65 814.10,679.60 C824.15,683.00 833.21,686.76 841.10,692.30 C848.74,697.67 856.72,704.72 860.90,712.10 C864.63,718.68 866.07,725.96 866.30,733.70 C866.56,742.58 864.37,752.54 860.90,762.50 C856.72,774.48 851.25,788.31 841.10,800.00 C828.08,815.00 804.04,831.18 784.50,841.00 C766.79,849.91 747.98,852.50 729.72,858.25"/>
<path d="M301.80,733.00 C289.03,744.33 276.92,754.87 263.50,767.00 C248.39,780.66 230.34,797.03 215.70,811.00 C202.86,823.25 192.02,834.42 180.18,846.12"/>
<path d="M289.90,807.10 L193.95,850.50"/>
<path d="M321.10,807.10 L343.35,845.00"/>
<path d="M360.60,805.50 C367.07,806.40 370.23,806.50 380.00,808.20 C410.92,813.59 531.64,840.51 572.00,848.50 C590.53,852.17 599.09,853.54 612.64,856.06"/>
<path d="M360.60,798.20 C367.07,798.40 370.19,798.41 380.00,798.80 C410.85,800.02 490.78,804.43 571.75,808.00 C711.61,814.17 960.08,823.10 1144.00,831.00 C1315.25,838.36 1498.01,847.39 1640.00,853.70 C1746.84,858.45 1827.25,861.78 1920.88,865.82"/>
<path d="M781.60,732.67 L781.60,768.67"/>
<path d="M992.00,732.67 L1004.08,769.34"/>
<path d="M1428.20,732.70 C1442.77,740.93 1457.31,749.97 1471.90,757.40 C1485.91,764.54 1498.82,769.98 1514.00,776.60 C1531.59,784.27 1554.07,793.87 1571.40,800.50 C1585.45,805.88 1597.42,809.82 1610.00,814.00 C1621.92,817.96 1632.09,821.41 1645.00,825.00 C1660.65,829.35 1679.87,833.98 1697.40,837.70 C1714.84,841.40 1732.36,844.66 1749.90,847.30 C1767.36,849.92 1784.90,851.60 1802.40,853.50 C1819.87,855.40 1837.32,857.10 1854.80,858.70 C1872.29,860.30 1895.19,862.18 1907.30,863.10 C1913.71,863.59 1917.10,863.76 1922.00,864.10"/>
<path d="M1350.40,731.30 C1276.93,737.90 1198.73,745.53 1130.00,751.10 C1069.68,755.99 1010.52,760.12 960.00,763.40 C919.40,766.03 884.90,767.31 850.10,769.70 C818.56,771.86 795.52,774.86 760.00,776.90 C708.76,779.85 635.00,781.26 572.00,783.50 C508.34,785.76 399.48,789.50 380.00,790.40 C376.50,790.56 375.87,790.63 373.81,790.75"/>
</g>
<g fill="#191970" stroke="#191970" stroke-width="1.333">
<polygon points="539.48,101.12 528.50,110.00 542.63,109.90"/>
<polygon points="658.46,97.83 651.30,110.00 664.49,104.95"/>
<polygon points="429.66,324.08 419.60,334.00 433.65,332.51"/>
<polygon points="818.33,248.58 827.50,259.33 827.03,245.21"/>
<polygon points="1659.06,118.75 1672.75,115.25 1659.87,109.45"/>
<polygon points="1731.83,171.34 1736.50,184.67 1741.17,171.34"/>
<polygon points="1859.42,183.52 1873.50,184.67 1863.21,174.99"/>
<polygon points="1149.61,398.80 1139.50,408.67 1153.56,407.26"/>
<polygon points="993.63,550.80 981.30,557.70 995.24,560.00"/>
<polygon points="1499.62,562.75 1486.50,568.00 1500.03,572.08"/>
<polygon points="1950.02,549.68 1938.60,558.00 1952.71,558.61"/>
<polygon points="1675.78,246.94 1669.00,259.33 1682.03,253.87"/>
<polygon points="1836.44,257.20 1850.40,259.33 1840.81,248.96"/>
<polygon points="2011.11,862.05 1998.00,867.30 2011.53,871.38"/>
<polygon points="917.39,331.97 904.50,337.75 918.18,341.26"/>
<polygon points="2010.39,858.82 1998.00,865.60 2011.92,868.03"/>
<polygon points="828.08,320.67 832.75,334.00 837.42,320.67"/>
<polygon points="1129.50,338.89 1143.50,337.00 1131.38,329.75"/>
<polygon points="805.63,769.84 797.80,781.60 811.25,777.29"/>
<polygon points="660.98,409.96 675.00,408.25 662.97,400.85"/>
<polygon points="337.09,469.21 337.50,483.33 345.99,472.04"/>
<polygon points="753.96,397.17 745.75,408.67 759.34,404.80"/>
<polygon points="1976.72,559.13 1990.80,558.00 1979.09,550.10"/>
<polygon points="193.51,544.52 197.40,558.10 202.83,545.06"/>
<polygon points="625.10,472.87 615.60,483.33 629.55,481.08"/>
<polygon points="716.32,543.76 720.00,557.40 725.62,544.44"/>
<polygon points="478.38,622.29 468.80,632.67 482.76,630.53"/>
<polygon points="1064.73,620.94 1072.60,632.67 1073.77,618.59"/>
<polygon points="1742.88,632.88 1757.00,632.67 1745.83,624.03"/>
<polygon points="935.85,712.62 949.80,710.40 937.51,703.44"/>
<polygon points="408.34,554.29 422.00,557.90 413.57,546.56"/>
<polygon points="400.07,629.33 413.80,632.67 405.15,621.50"/>
<polygon points="256.26,791.78 269.90,788.10 256.94,782.47"/>
<polygon points="472.34,547.77 462.50,557.90 476.51,556.12"/>
<polygon points="1057.52,622.88 1067.70,632.67 1065.85,618.67"/>
<polygon points="269.18,779.63 283.20,781.40 273.35,771.28"/>
<polygon points="117.81,853.45 131.60,856.50 122.72,845.52"/>
<polygon points="314.12,852.98 327.80,856.50 319.30,845.22"/>
<polygon points="728.06,799.34 741.50,795.00 728.28,790.01"/>
<polygon points="293.00,699.72 304.90,707.33 300.34,693.96"/>
<polygon points="1006.71,636.76 1020.50,633.70 1007.81,627.49"/>
<polygon points="935.92,713.05 949.80,710.40 937.30,703.82"/>
<polygon points="433.01,619.21 437.30,632.67 442.34,619.47"/>
<polygon points="1006.68,636.64 1020.50,633.70 1007.87,627.38"/>
<polygon points="283.09,776.35 296.20,781.60 289.22,769.32"/>
<polygon points="764.43,626.23 777.00,632.67 771.19,619.79"/>
<polygon points="493.95,624.82 482.20,632.67 496.28,633.86"/>
<polygon points="935.89,712.88 949.80,710.40 937.38,703.67"/>
<polygon points="1151.56,635.53 1165.40,632.70 1152.82,626.28"/>
<polygon points="514.01,626.95 501.50,633.50 515.37,636.18"/>
<polygon points="818.82,622.06 809.50,632.67 823.41,630.19"/>
<polygon points="902.58,618.67 904.50,632.67 911.73,620.53"/>
<polygon points="951.81,624.73 963.50,632.67 959.31,619.18"/>
<polygon points="1182.98,634.40 1197.00,632.67 1184.96,625.28"/>
<polygon points="1145.59,625.60 1133.50,632.90 1147.51,634.73"/>
<polygon points="1288.26,623.28 1277.70,632.67 1291.81,631.91"/>
<polygon points="1511.97,629.78 1525.80,632.67 1516.80,621.78"/>
<polygon points="1508.92,699.09 1520.40,707.33 1516.56,693.73"/>
<polygon points="1037.19,709.00 1024.40,715.00 1038.14,718.29"/>
<polygon points="373.55,786.09 360.50,791.50 374.07,795.41"/>
<polygon points="1479.22,710.77 1493.30,709.60 1481.56,701.74"/>
<polygon points="1010.22,695.44 1002.70,707.40 1016.04,702.75"/>
<polygon points="1343.67,709.36 1357.70,707.70 1345.70,700.25"/>
<polygon points="373.14,705.84 360.20,711.50 373.85,715.15"/>
<polygon points="1920.23,863.12 1934.20,861.00 1921.96,853.95"/>
<polygon points="1486.59,700.03 1474.30,707.00 1488.25,709.22"/>
<polygon points="1575.69,700.68 1563.80,708.30 1577.85,709.76"/>
<polygon points="1743.03,694.29 1737.60,707.33 1749.98,700.52"/>
<polygon points="1835.42,700.72 1847.90,707.33 1842.27,694.38"/>
<polygon points="412.24,859.69 399.25,865.25 412.87,869.00"/>
<polygon points="1710.43,623.97 1699.30,632.67 1713.43,632.80"/>
<polygon points="1818.00,620.29 1811.20,632.67 1824.24,627.23"/>
<polygon points="1960.13,843.67 1964.80,857.00 1969.47,843.67"/>
<polygon points="1997.94,631.35 2012.00,632.67 2001.83,622.87"/>
<polygon points="1843.93,624.38 1832.50,632.67 1846.61,633.32"/>
<polygon points="2030.23,619.34 2034.90,632.67 2039.57,619.34"/>
<polygon points="1991.20,844.03 1983.70,856.00 1997.03,851.32"/>
<polygon points="343.55,696.48 334.50,707.33 348.34,704.50"/>
<polygon points="463.15,698.41 474.10,707.33 471.10,693.53"/>
<polygon points="548.96,705.79 563.00,707.33 552.98,697.37"/>
<polygon points="360.15,842.37 360.20,856.50 368.97,845.43"/>
<polygon points="161.56,842.38 161.10,856.50 170.26,845.75"/>
<polygon points="629.69,708.89 643.80,708.20 632.34,699.94"/>
<polygon points="724.20,710.58 738.20,708.70 726.08,701.44"/>
<polygon points="935.95,717.10 949.80,714.30 937.23,707.86"/>
<polygon points="728.32,853.79 717.00,862.25 731.12,862.70"/>
<polygon points="176.90,842.81 170.70,855.50 183.46,849.44"/>
<polygon points="192.02,846.25 181.80,856.00 195.87,854.76"/>
<polygon points="339.33,847.36 350.10,856.50 347.37,842.64"/>
<polygon points="611.79,860.65 625.75,858.50 613.50,851.47"/>
<polygon points="1920.68,870.49 1934.20,866.40 1921.08,861.16"/>
<polygon points="776.93,768.67 781.60,782.00 786.27,768.67"/>
<polygon points="999.65,770.80 1008.25,782.00 1008.51,767.88"/>
<polygon points="1921.68,868.75 1935.30,865.00 1922.31,859.44"/>
<polygon points="373.55,786.09 360.50,791.50 374.07,795.41"/>
</g>
</svg></body></html>
